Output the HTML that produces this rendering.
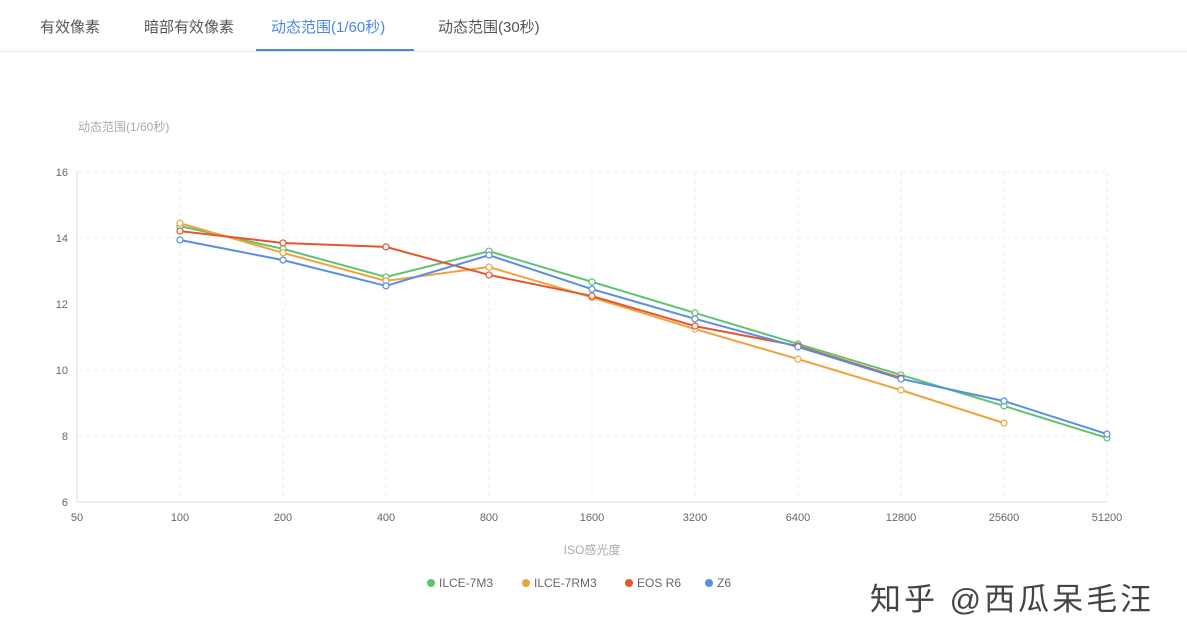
<!DOCTYPE html>
<html><head><meta charset="utf-8"><style>
body{margin:0;width:1187px;height:640px;background:#fff;font-family:"Liberation Sans","Noto Sans CJK SC",sans-serif;overflow:hidden;position:relative}
.tabs{position:absolute;left:0;top:0;width:1187px;height:51px;border-bottom:1px solid #e4e4e4}
.tab{position:absolute;top:16px;font-size:15px;color:#555}
.tab.active{color:#4a86e8}
.ul{position:absolute;left:256px;top:49px;width:158px;height:2px;background:#4a86e8}
.wm{position:absolute;left:870px;top:574px;font-size:31px;color:#444;font-family:"Liberation Sans","Noto Sans CJK SC",sans-serif;letter-spacing:3px}
</style></head><body>
<div class="tabs">
<span class="tab" style="left:40px">有效像素</span>
<span class="tab" style="left:144px">暗部有效像素</span>
<span class="tab active" style="left:271px">动态范围(1/60秒)</span>
<span class="tab" style="left:438px">动态范围(30秒)</span>
<div class="ul"></div>
</div>
<svg id="chart" width="1187" height="640" style="position:absolute;left:0;top:0"></svg>
<div class="wm">知乎 @西瓜呆毛汪</div>
<script>
const categories=["50","100","200","400","800","1600","3200","6400","12800","25600","51200"];
const yTicks=[6,8,10,12,14,16];
const seriesNames=["ILCE-7M3","ILCE-7RM3","EOS R6","Z6"];
const seriesColors=["#5cc36f","#eda43c","#e4572e","#5b8ee0"];
const s7m3=[null,14.36,13.67,12.82,13.6,12.67,11.73,10.79,9.85,8.91,7.94];
const s7rm3=[null,14.45,13.55,12.7,13.12,12.2,11.24,10.33,9.39,8.39,null];
const sR6=[null,14.21,13.85,13.73,12.88,12.24,11.33,10.73,9.76,null,null];
const sZ6=[null,13.94,13.33,12.55,13.48,12.45,11.55,10.7,9.73,9.06,8.06];
const allSeries=[s7m3,s7rm3,sR6,sZ6];
const svg=document.getElementById('chart');const NS='http://www.w3.org/2000/svg';
const x0=77,x1=1107,yTop=172,yBot=502;
const xs=i=>x0+i*(x1-x0)/(categories.length-1);
const ys=v=>yBot-(v-6)/(16-6)*(yBot-yTop);
function mk(t,a,p){const e=document.createElementNS(NS,t);for(const k in a)e.setAttribute(k,a[k]);(p||svg).appendChild(e);return e;}
yTicks.forEach(v=>{const g=mk('line',{x1:x0,x2:x1,y1:ys(v),y2:ys(v),stroke:v===6?'#ddd':'#eee','stroke-dasharray':v===6?'':'4,4'});


const t=mk('text',{x:68,y:ys(v)+4,'text-anchor':'end','font-size':11,fill:'#666'});t.textContent=v;

});
categories.forEach((c,i)=>{if(i>0){const g=mk('line',{x1:xs(i),x2:xs(i),y1:yTop,y2:yBot,stroke:'#eee','stroke-dasharray':'4,4'});

}
const t=mk('text',{x:xs(i),y:521,'text-anchor':'middle','font-size':11,fill:'#666'});t.textContent=c;

});
const ya=mk('line',{x1:x0,x2:x0,y1:yTop,y2:yBot,stroke:'#ddd'});


const yt=mk('text',{x:78,y:131,'font-size':12,fill:'#aaa'});yt.textContent='动态范围(1/60秒)';


const xt=mk('text',{x:592,y:554,'text-anchor':'middle','font-size':12,fill:'#aaa'});xt.textContent='ISO感光度';


allSeries.forEach((s,k)=>{let d='';s.forEach((v,i)=>{if(v!=null)d+=(d?'L':'M')+xs(i)+','+ys(v);});
const p=mk('path',{d:d,fill:'none',stroke:seriesColors[k],'stroke-width':2});


s.forEach((v,i)=>{if(v==null)return;const c=mk('circle',{cx:xs(i),cy:ys(v),r:3,fill:'#fff',stroke:seriesColors[k],'stroke-width':1.2});

});});
const lx=[431,526,629,709];
seriesNames.forEach((n,k)=>{const c=mk('circle',{cx:lx[k],cy:583,r:4,fill:seriesColors[k]});


const t=mk('text',{x:lx[k]+8,y:587,'font-size':12,fill:'#666'});t.textContent=n;

});
</script>
</body></html>
